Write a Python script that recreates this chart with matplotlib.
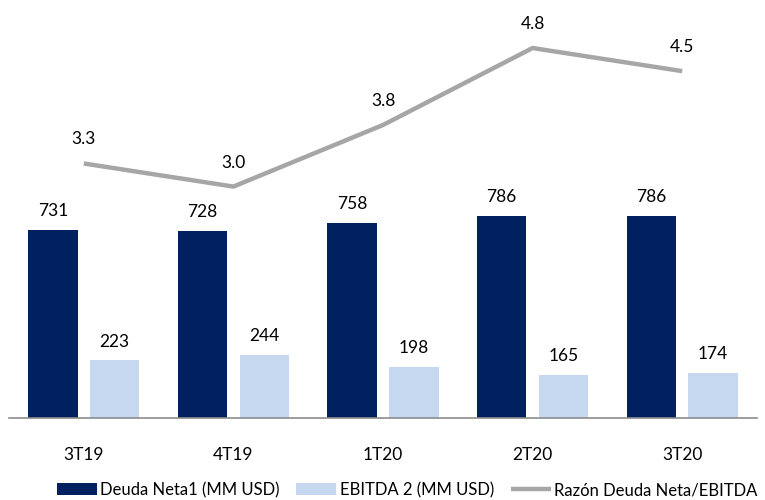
import numpy as np
import matplotlib
matplotlib.use("Agg")
import matplotlib.pyplot as plt

plt.rcParams['font.family'] = ['Lato', 'DejaVu Sans']

# Data
quarters = ['3T19', '4T19', '1T20', '2T20', '3T20']
deuda_neta = [731, 728, 758, 786, 786]
ebitda = [223, 244, 198, 165, 174]
razon = [3.3, 3.0, 3.8, 4.8, 4.5]

navy = '#002060'
light = '#c6d8ef'
grey = '#a6a6a6'

fig = plt.figure(figsize=(7.65, 5), dpi=100)
ax = fig.add_axes([9 / 765, 0.165, 748 / 765, 0.819])

x = np.arange(len(quarters))
w = 0.33
off = 0.207

b1 = ax.bar(x - off, deuda_neta, w, color=navy, label='Deuda Neta1 (MM USD)', zorder=2)
b2 = ax.bar(x + off, ebitda, w, color=light, label='EBITDA 2 (MM USD)', zorder=2)

for bars, vals in [(b1, deuda_neta), (b2, ebitda)]:
    for rect, v in zip(bars, vals):
        ax.annotate(f'{v}', (rect.get_x() + rect.get_width() / 2, rect.get_height()),
                    xytext=(0, 13.5), textcoords='offset points',
                    ha='center', va='center', fontsize=12.5, color='black')

ax.set_xlim(-0.5, len(quarters) - 0.5)
ax.set_ylim(0, 1597)
ax.set_xticks(x)
ax.set_xticklabels(quarters, fontsize=12.5)
ax.tick_params(axis='x', length=0, pad=21)
ax.set_yticks([])
for s in ['top', 'right', 'left']:
    ax.spines[s].set_visible(False)
ax.spines['bottom'].set_color('#8c8c8c')
ax.spines['bottom'].set_linewidth(1.2)

# Ratio on a hidden secondary axis
ax2 = ax.twinx()
ln, = ax2.plot(x, razon, color=grey, linewidth=3.2, label='Razón Deuda Neta/EBITDA',
               solid_capstyle='butt', zorder=3)
ax2.set_ylim(0, 5.32)
ax2.set_yticks([])
for s in ['top', 'right', 'left', 'bottom']:
    ax2.spines[s].set_visible(False)
for xi, r in zip(x, razon):
    ax2.annotate(f'{r:.1f}', (xi, r), xytext=(0, 17.3), textcoords='offset points',
                 ha='center', va='center', fontsize=12.5, color='black')

fig.legend(handles=[b1, b2, ln], loc='center', bbox_to_anchor=(0.532, 0.02),
           ncol=3, frameon=False, fontsize=12, handlelength=2.4,
           handletextpad=0.2, columnspacing=1.0, handleheight=0.7)

fig.savefig('out.png', dpi=100)
